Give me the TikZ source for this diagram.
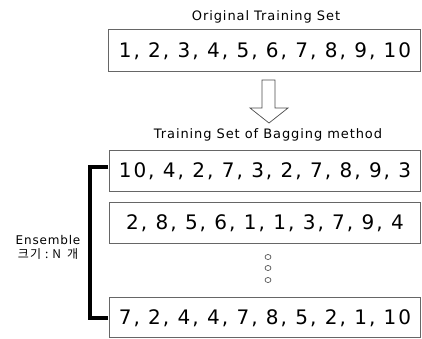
\documentclass[tikz,border=0pt]{standalone}
\usepackage{fontspec}
\setmainfont{DejaVu Sans}
\newfontfamily\numfont[LetterSpace=10]{DejaVu Sans}
\newfontfamily\ttlfont[LetterSpace=7]{DejaVu Sans}
\newfontfamily\kofont[LetterSpace=10]{Noto Sans CJK KR}
\begin{document}
\begin{tikzpicture}[x=1pt,y=-1pt,
  setbox/.style={draw=black!60, line width=0.8pt, fill=white},
  nums/.style={font=\numfont\fontsize{20}{22}\selectfont, inner sep=0pt},
  ttl/.style={font=\ttlfont\fontsize{13}{15}\selectfont, inner sep=0pt},
  brk/.style={line width=4pt, line cap=butt},
  dot/.style={draw=black!80, line width=0.6pt}]
\useasboundingbox (0,0) rectangle (422,338);
% titles
\node[ttl] (t1) at (266,17) {Original Training Set};
\node[ttl] (t2) at (268,135) {Training Set of Bagging method};
% boxes
\draw[setbox] (108,29) rectangle (420,71);
\node[nums] (b1) at (265,51) {1, 2, 3, 4, 5, 6, 7, 8, 9, 10};
\draw[setbox] (109,150) rectangle (420,191);
\node[nums] (b2) at (265,171) {10, 4, 2, 7, 3, 2, 7, 8, 9, 3};
\draw[setbox] (109,202) rectangle (420,243);
\node[nums] (b3) at (265,223) {2, 8, 5, 6, 1, 1, 3, 7, 9, 4};
\draw[setbox] (109,297) rectangle (420,337);
\node[nums] (b4) at (265,318) {7, 2, 4, 4, 7, 8, 5, 2, 1, 10};
% arrow
\draw[draw=black!70, line width=0.7pt, fill=white]
  (262,80) -- (275,80) -- (275,108) -- (288,108) -- (269,123) -- (250,108) -- (262,108) -- cycle;
% dots
\draw[dot] (268,257) ellipse (3 and 2.5);
\draw[dot] (268,268) ellipse (3 and 2.5);
\draw[dot] (268,280) ellipse (3 and 2.5);
% bracket
\coordinate (bt) at (108,166.5);
\coordinate (bb) at (108,318);
\draw[brk] (bt) -- (89.5,166.5) -- (89.5,318) -- (bb);
% ensemble label
\node[font=\ttlfont\fontsize{12}{14}\selectfont, inner sep=0pt] (e1) at (48,240) {Ensemble};
\node[font=\kofont\fontsize{12}{14}\selectfont, inner sep=0pt] (e2) at (48,254) {크기\hspace{4pt}:\hspace{4pt}N\hspace{6pt}개};
\end{tikzpicture}
\end{document}
